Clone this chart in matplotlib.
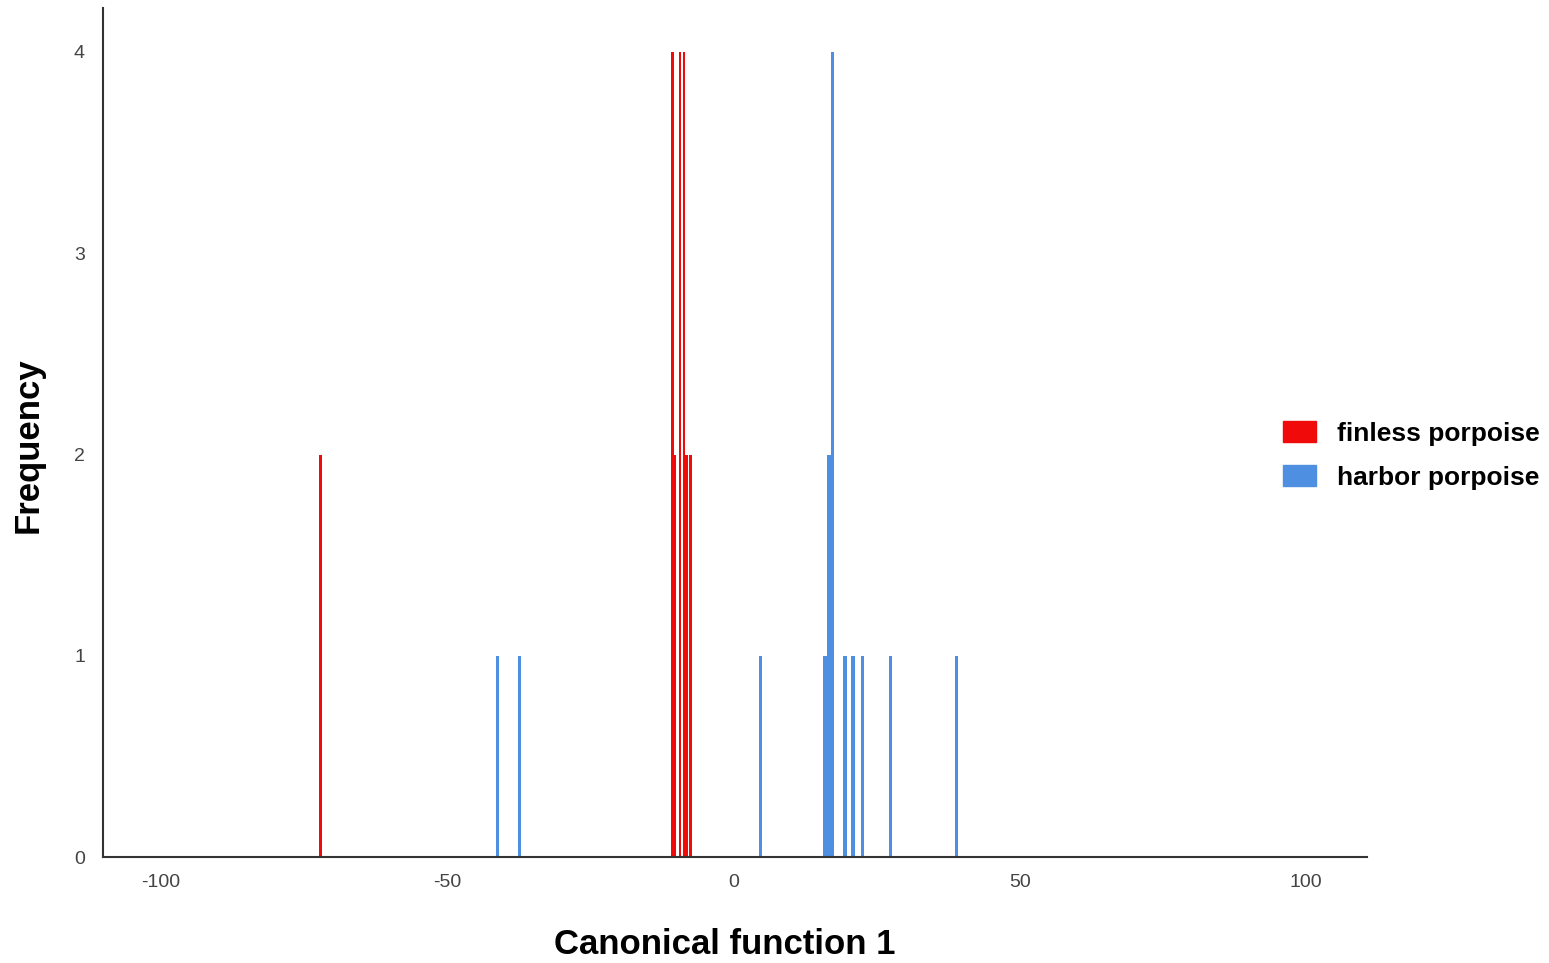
import matplotlib
matplotlib.use("Agg")
import matplotlib.pyplot as plt
from matplotlib.patches import Patch

plt.rcParams['font.family'] = ['Liberation Sans', 'DejaVu Sans']

# canonical score positions and counts
finless_x = [-72.1, -10.6, -10.2, -9.3, -8.6, -8.1, -7.4]
finless_n = [2, 4, 2, 4, 4, 2, 2]

harbor_x = [-41.1, -37.3, 4.7, 16.0, 16.7, 17.3, 19.5, 20.9, 22.5, 27.5, 39.0]
harbor_n = [1, 1, 1, 1, 2, 4, 1, 1, 1, 1, 1]

x_ticks = [-100, -50, 0, 50, 100]
y_ticks = [0, 1, 2, 3, 4]

red = '#f00a0a'
blue = '#4f8fe2'

fig = plt.figure(figsize=(15.49, 9.63), dpi=100)
ax = fig.add_axes([0.0665, 0.110, 0.816, 0.882])

ax.bar(finless_x, finless_n, width=0.5, color=red, linewidth=0)
ax.bar(harbor_x, harbor_n, width=0.55, color=blue, linewidth=0)

ax.set_xlim(-110, 110.6)
ax.set_ylim(0, 4.22)
ax.set_xticks(x_ticks)
ax.set_xticklabels([str(t) for t in x_ticks])
ax.set_yticks(y_ticks)
ax.tick_params(axis='both', length=0, labelsize=14, colors='#444444')
ax.tick_params(axis='x', pad=12)
ax.tick_params(axis='y', pad=13)

for s in ['top', 'right']:
    ax.spines[s].set_visible(False)
for s in ['left', 'bottom']:
    ax.spines[s].set_color('#333333')
    ax.spines[s].set_linewidth(1.5)

ax.set_xlabel('Canonical function 1', fontsize=25, fontweight='bold')
ax.xaxis.set_label_coords(0.492, -0.084)
ax.set_ylabel('Frequency', fontsize=25, fontweight='bold')
ax.yaxis.set_label_coords(-0.046, 0.485)

handles = [Patch(color=red, label='finless porpoise'),
           Patch(color=blue, label='harbor porpoise')]
fig.legend(handles=handles, loc='center left', bbox_to_anchor=(0.8128, 0.527),
           frameon=False, prop={'size': 19, 'weight': 'bold'},
           handlelength=1.25, handleheight=0.8, handletextpad=0.8, labelspacing=0.75)

fig.savefig('out.png', dpi=100)
